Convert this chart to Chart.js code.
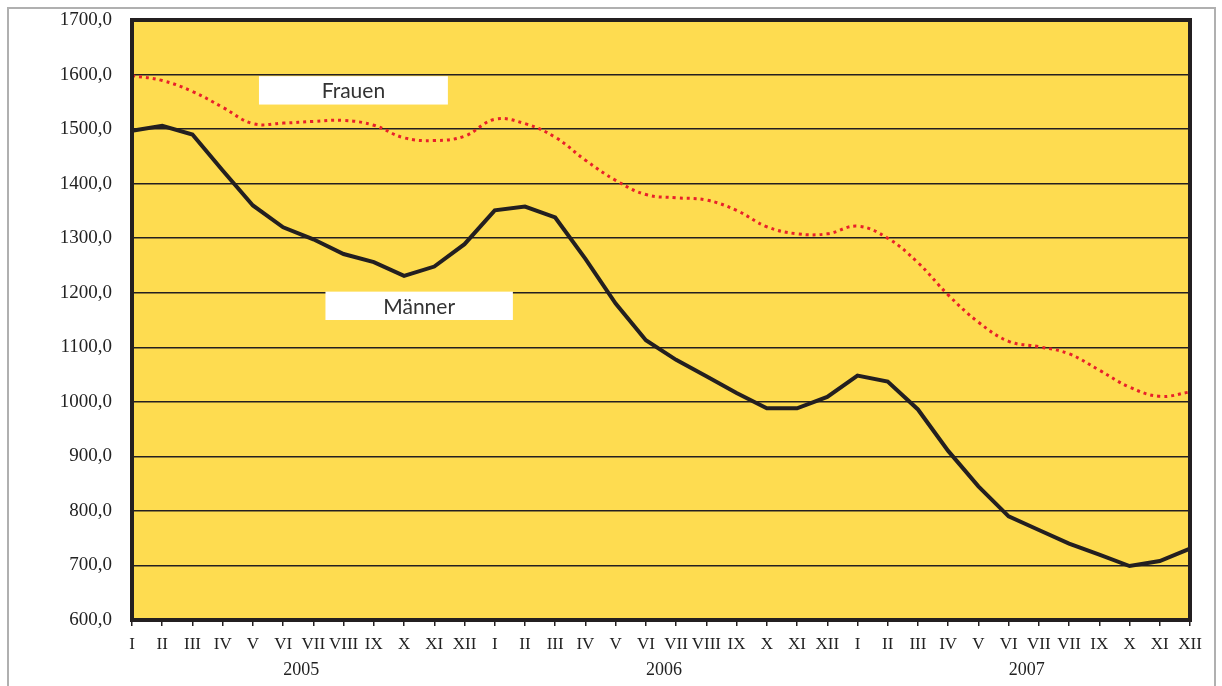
<!DOCTYPE html>
<html>
<head>
<meta charset="utf-8">
<script src="https://cdn.jsdelivr.net/npm/chart.js@4"></script>
<style>
  html, body { margin: 0; padding: 0; background: #fff; }
  #wrap { width: 1222px; height: 686px; position: relative; }
</style>
</head>
<body>
<div id="wrap"><canvas id="arbeitslose" width="1222" height="686"></canvas></div>
<script>
// ===================
// Data
// ===================

const months = [
  'I','II','III','IV','V','VI','VII','VIII','IX','X','XI','XII',
  'I','II','III','IV','V','VI','VII','VIII','IX','X','XI','XII',
  'I','II','III','IV','V','VI','VII','VII','IX','X','XI','XII'
];
const years = ['2005', '2006', '2007'];

const frauen = [
  1598, 1589, 1569, 1540, 1510, 1511, 1514, 1516, 1507, 1484, 1479, 1487,
  1518, 1510, 1485, 1443, 1406, 1380, 1374, 1370, 1351, 1321, 1308, 1308,
  1322, 1300, 1255, 1196, 1146, 1111, 1101, 1088, 1058, 1027, 1010, 1018
];
const maenner = [
  1497, 1506, 1490, 1424, 1360, 1320, 1298, 1271, 1256, 1231, 1248, 1289,
  1351, 1358, 1338, 1262, 1180, 1113, 1077, 1047, 1016, 988, 988, 1009,
  1048, 1037, 986, 910, 845, 790, 765, 740, 720, 699, 708, 731
];

// ===================
// Decorations
// ===================

const deco = {
  id: 'deco',
  beforeDraw(chart) {
    const { ctx, chartArea: a } = chart;
    ctx.save();
    ctx.fillStyle = '#FEDC50';
    ctx.fillRect(a.left, a.top, a.right - a.left, a.bottom - a.top);
    // outer grey frame
    ctx.strokeStyle = '#b0b0b0';
    ctx.lineWidth = 2;
    ctx.strokeRect(8, 8, 1207, 700);
    ctx.restore();
  },
  afterDatasetsDraw(chart) {
    const { ctx, chartArea: a, scales: { x, y } } = chart;
    ctx.save();
    // thick frame round the plot
    ctx.strokeStyle = '#231f20';
    ctx.lineWidth = 4;
    ctx.strokeRect(a.left, a.top, a.right - a.left, a.bottom - a.top);

    // series name boxes
    function box(text, i0, i1, v0, v1) {
      const x0 = x.getPixelForValue(i0), x1 = x.getPixelForValue(i1);
      const y0 = y.getPixelForValue(v0), y1 = y.getPixelForValue(v1);
      ctx.fillStyle = '#fff';
      ctx.fillRect(x0, y0, x1 - x0, y1 - y0);
      ctx.fillStyle = '#333';
      ctx.font = '21px Lato';
      ctx.textAlign = 'center';
      ctx.textBaseline = 'middle';
      ctx.fillText(text, (x0 + x1) / 2, (y0 + y1) / 2 + 1);
    }
    box('Frauen', 4.2, 10.45, 1597, 1545);
    box('Männer', 6.4, 12.6, 1202, 1150);

    // year labels under the months
    ctx.fillStyle = '#222';
    ctx.font = '18px "Liberation Serif"';
    ctx.textAlign = 'center';
    ctx.textBaseline = 'middle';
    years.forEach(function (yr, k) {
      ctx.fillText(yr, x.getPixelForValue(k * 12 + 5.6), 670);
    });
    ctx.restore();
  }
};

// ===================
// Chart
// ===================

var ctx = document.getElementById('arbeitslose').getContext('2d');
var chart = new Chart(ctx, {
  type: 'line',
  data: {
    labels: months,
    datasets: [{
      label: 'Frauen',
      data: frauen,
      borderColor: '#E8202A',
      borderWidth: 3,
      borderDash: [3, 4],
      tension: 0.4,
      pointRadius: 0,
      fill: false
    }, {
      label: 'Männer',
      data: maenner,
      borderColor: '#231f20',
      borderWidth: 4,
      tension: 0,
      pointRadius: 0,
      fill: false
    }]
  },
  options: {
    responsive: false,
    animation: false,
    layout: { padding: { left: 0, right: 32, top: 20, bottom: 0 } },
    plugins: {
      legend: { display: false },
      tooltip: { enabled: false }
    },
    scales: {
      x: {
        offset: false,
        grid: {
          drawOnChartArea: false,
          drawTicks: true,
          tickLength: 6,
          color: '#231f20',
          lineWidth: 1.5
        },
        border: { display: false },
        ticks: {
          autoSkip: false,
          maxRotation: 0,
          padding: 8,
          color: '#222',
          font: { family: '"Liberation Serif"', size: 17 }
        },
        afterFit(scale) { scale.height = 66; }
      },
      y: {
        min: 600,
        max: 1700,
        grid: {
          color: '#231f20',
          lineWidth: 1.5,
          drawTicks: false
        },
        border: { display: false },
        ticks: {
          stepSize: 100,
          padding: 20,
          color: '#222',
          font: { family: '"Liberation Serif"', size: 19 },
          callback: function (v) { return v.toFixed(1).replace('.', ','); }
        },
        afterFit(scale) {
          scale.width = 132;
          scale.paddingTop = 0;
          scale.paddingBottom = 0;
        }
      }
    }
  },
  plugins: [deco]
});
</script>
</body>
</html>
